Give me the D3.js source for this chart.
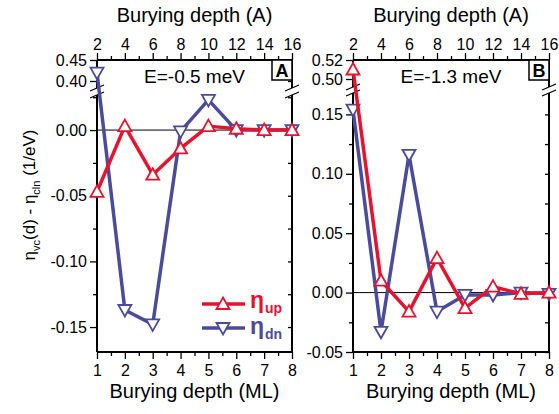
<!DOCTYPE html>
<html>
<head>
<meta charset="utf-8">
<script src="https://cdn.jsdelivr.net/npm/d3@7"></script>
<style>
body { margin: 0; background: #fff; }
text { font-family: "Liberation Sans", Arial, sans-serif; }
</style>
</head>
<body>
<svg id="chart" width="559" height="414"></svg>
<script>
(function () {
// data
var ml = [1, 2, 3, 4, 5, 6, 7, 8]
var upA = [-0.047, 0.003, -0.034, -0.014, 0.003, 0.001, 0.000, 0.000]
var dnA = [0.420, -0.137, -0.148, -0.001, 0.023, 0.000, 0.000, 0.000]
var upB = [0.510, 0.010, -0.016, 0.029, -0.013, 0.005, -0.001, 0.000]
var dnB = [0.154, -0.033, 0.116, -0.016, -0.002, -0.002, 0.000, -0.001]
var mlTicks = [1, 2, 3, 4, 5, 6, 7, 8]
var angTicks = [2, 4, 6, 8, 10, 12, 14, 16]

var red = '#e5132e', blue = '#4b4b9e'
var top = 60, bottom = 352

var svg = d3.select('#chart')
var fmt = d => d.toFixed(2)

var panels = [
    {x0: 97, x1: 292, up: upA, dn: dnA, label: 'E=-0.5 meV', tag: 'A',
     low: [-0.169, 0.0267], lowY: [352, 95], lowMaj: [-0.15, -0.10, -0.05, 0.00],
     lowMin: [-0.125, -0.075, -0.025, 0.025],
     hi: [0.3833, 0.45], hiY: [88, 60], hiMaj: [0.40, 0.45], hiMin: [0.425]},
    {x0: 353, x1: 549, up: upB, dn: dnB, label: 'E=-1.3 meV', tag: 'B',
     low: [-0.05, 0.168], lowY: [352, 93], lowMaj: [-0.05, 0.00, 0.05, 0.10, 0.15],
     lowMin: [-0.025, 0.025, 0.075, 0.125],
     hi: [0.4916, 0.52], hiY: [87, 60], hiMaj: [0.50, 0.52], hiMin: [0.51]}
]

panels.forEach(function (p) {
    var g = svg.append('g')
    var x = d3.scaleLinear().domain([1, 8]).range([p.x0, p.x1])
    var xTop = d3.scaleLinear().domain([2, 16]).range([p.x0, p.x1])
    var yLow = d3.scaleLinear().domain(p.low).range(p.lowY)
    var yHi = d3.scaleLinear().domain(p.hi).range(p.hiY)
    var y = v => v > 0.3 ? yHi(v) : yLow(v)

    // frame top / bottom
    g.append('line').attr('x1', p.x0).attr('x2', p.x1).attr('y1', top).attr('y2', top)
        .attr('stroke', '#000').attr('stroke-width', 2)
    g.append('line').attr('x1', p.x0).attr('x2', p.x1).attr('y1', bottom).attr('y2', bottom)
        .attr('stroke', '#000').attr('stroke-width', 2)

    // bottom axis
    var bx = g.append('g').attr('transform', 'translate(0,' + bottom + ')')
        .call(d3.axisBottom(x).tickValues(mlTicks).tickSize(7).tickPadding(6).tickFormat(d3.format('d')))
    bx.append('g').call(d3.axisBottom(x).tickValues(d3.range(1.5, 8, 1)).tickSize(4).tickFormat(''))
    // top axis
    var tx = g.append('g').attr('transform', 'translate(0,' + top + ')')
        .call(d3.axisTop(xTop).tickValues(angTicks).tickSize(7).tickPadding(3).tickFormat(d3.format('d')))
    tx.append('g').call(d3.axisTop(xTop).tickValues(d3.range(3, 16, 2)).tickSize(4).tickFormat(''))

    // left axis (two segments)
    var lx = g.append('g').attr('transform', 'translate(' + p.x0 + ',0)')
    lx.append('g').call(d3.axisLeft(yLow).tickValues(p.lowMaj).tickSize(7).tickPadding(3).tickFormat(fmt))
    lx.append('g').call(d3.axisLeft(yLow).tickValues(p.lowMin).tickSize(4).tickFormat(''))
    lx.append('g').call(d3.axisLeft(yHi).tickValues(p.hiMaj).tickSize(7).tickPadding(3).tickFormat(fmt))
    lx.append('g').call(d3.axisLeft(yHi).tickValues(p.hiMin).tickSize(4).tickFormat(''))
    // right axis, inward ticks
    var rx = g.append('g').attr('transform', 'translate(' + p.x1 + ',0)')
    rx.append('g').call(d3.axisLeft(yLow).tickValues(p.lowMaj.concat(p.lowMin)).tickSize(4).tickFormat(''))
    rx.append('g').call(d3.axisLeft(yHi).tickValues(p.hiMaj.concat(p.hiMin)).tickSize(4).tickFormat(''))

    g.selectAll('.domain').remove()
    g.selectAll('.tick line').attr('stroke', '#000').attr('stroke-width', 1.3)
    g.selectAll('.tick text').attr('fill', '#000').style('font-size', '16px')
        .style('font-family', '"Liberation Sans", Arial, sans-serif')

    // vertical axis lines with break marks
    ;[p.x0, p.x1].forEach(function (ax) {
        g.append('line').attr('x1', ax).attr('x2', ax).attr('y1', top).attr('y2', p.hiY[0])
            .attr('stroke', '#000').attr('stroke-width', 2)
        g.append('line').attr('x1', ax).attr('x2', ax).attr('y1', p.lowY[1]).attr('y2', bottom)
            .attr('stroke', '#000').attr('stroke-width', 2)
        ;[p.hiY[0], p.lowY[1]].forEach(function (by) {
            g.append('line').attr('x1', ax - 7).attr('x2', ax + 7).attr('y1', by + 3).attr('y2', by - 3)
                .attr('stroke', '#000').attr('stroke-width', 1.3)
        })
    })

    // zero line
    g.append('line').attr('x1', p.x0).attr('x2', p.x1).attr('y1', yLow(0)).attr('y2', yLow(0))
        .attr('stroke', '#000').attr('stroke-width', 1)

    var line = d3.line().x((d, i) => x(ml[i])).y(d => y(d))
    var series = [{v: p.dn, c: blue, dir: -1}, {v: p.up, c: red, dir: 1}]
    series.forEach(function (s) {
        g.append('path').attr('d', line(s.v)).attr('fill', 'none')
            .attr('stroke', s.c).attr('stroke-width', 3.5).attr('stroke-linejoin', 'round')
        g.selectAll(null).data(s.v).enter().append('path')
            .attr('d', s.dir > 0 ? 'M0,-6.5L6.5,5L-6.5,5Z' : 'M0,6.5L6.5,-5L-6.5,-5Z')
            .attr('transform', (d, i) => 'translate(' + x(ml[i]) + ',' + y(d) + ')')
            .attr('fill', '#fff').attr('stroke', s.c).attr('stroke-width', 1.8)
    })

    // energy label and panel tag
    g.append('text').attr('x', (p.x0 + p.x1) / 2).attr('y', 83).attr('text-anchor', 'middle')
        .style('font-size', '19px').text(p.label)
    g.append('rect').attr('x', p.x1 - 20).attr('y', top).attr('width', 20).attr('height', 20)
        .attr('fill', '#fff').attr('stroke', '#000').attr('stroke-width', 1.5)
    g.append('text').attr('x', p.x1 - 10).attr('y', top + 17).attr('text-anchor', 'middle')
        .style('font-size', '18px').style('font-weight', 'bold').text(p.tag)

    // axis titles
    g.append('text').attr('x', (p.x0 + p.x1) / 2).attr('y', 22).attr('text-anchor', 'middle')
        .style('font-size', '20px').text('Burying depth (A)')
    g.append('text').attr('x', (p.x0 + p.x1) / 2).attr('y', 398).attr('text-anchor', 'middle')
        .style('font-size', '20px').text('Burying depth (ML)')
})

// y title
var yt = svg.append('text').attr('transform', 'translate(35,195) rotate(-90)')
    .attr('text-anchor', 'middle').style('font-size', '17px')
yt.append('tspan').text('η')
yt.append('tspan').attr('dy', 5).style('font-size', '11px').text('vc')
yt.append('tspan').attr('dy', -5).text('(d) - η')
yt.append('tspan').attr('dy', 5).style('font-size', '11px').text('cln')
yt.append('tspan').attr('dy', -5).text(' (1/eV)')

// legend
var leg = [{c: red, dir: 1, name: 'up', y: 304, base: 308}, {c: blue, dir: -1, name: 'dn', y: 328, base: 334}]
leg.forEach(function (l) {
    var g = svg.append('g')
    g.append('line').attr('x1', 202).attr('x2', 245).attr('y1', l.y).attr('y2', l.y)
        .attr('stroke', l.c).attr('stroke-width', 3.5)
    g.append('path').attr('d', l.dir > 0 ? 'M0,-6.5L6.5,5L-6.5,5Z' : 'M0,6.5L6.5,-5L-6.5,-5Z')
        .attr('transform', 'translate(223,' + l.y + ')')
        .attr('fill', '#fff').attr('stroke', l.c).attr('stroke-width', 1.8)
    g.append('text').attr('x', 250).attr('y', l.base).attr('fill', l.c)
        .style('font-size', '23px').style('font-weight', 'bold').text('η')
    g.append('text').attr('x', 265).attr('y', l.base + 5).attr('fill', l.c)
        .style('font-size', '14px').style('font-weight', 'bold').text(l.name)
})
})();
</script>
</body>
</html>
